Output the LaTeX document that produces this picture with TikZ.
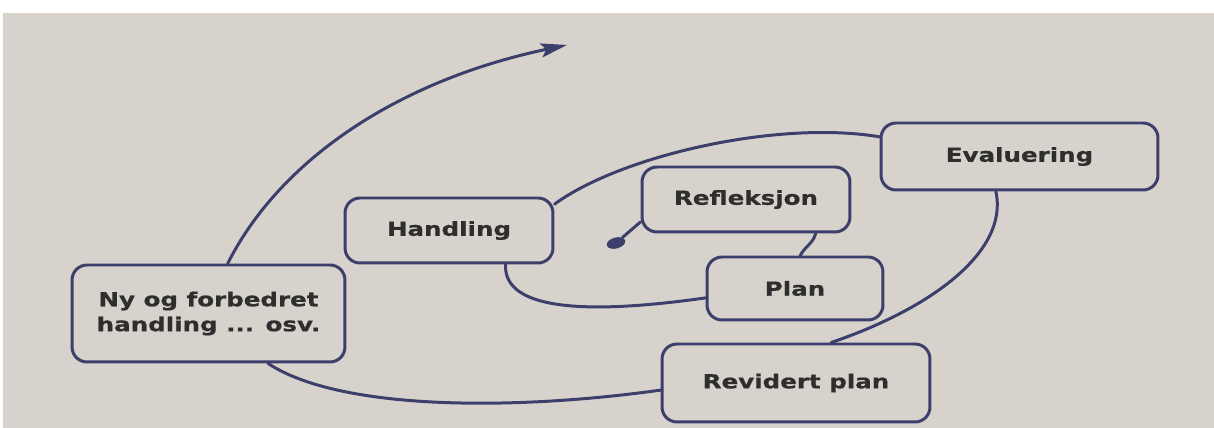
\documentclass[tikz,border=0pt]{standalone}
\usepackage{fontspec}
\newfontfamily\boxfont{DejaVu Sans}[FakeStretch=1.27, FakeBold=0.6]
\usetikzlibrary{arrows.meta,shapes.geometric}
\definecolor{ink}{RGB}{60,63,108}
\definecolor{paper}{RGB}{215,210,203}
\definecolor{txt}{RGB}{46,46,46}

\begin{document}
\begin{tikzpicture}
        [x=0.02cm, y=-0.02cm,
        box/.style={draw=ink, line width=1.7pt, rounded corners=0.3cm, inner sep=0pt, align=center, text=txt, font=\boxfont\bfseries\fontsize{11}{14.2}\selectfont},
        spiral/.style={draw=ink, line width=1.7pt, line cap=round},
        dotnode/.style={ellipse, fill=ink, inner sep=0pt, minimum width=0.38cm, minimum height=0.22cm, rotate=15}]
        \fill[white] (0,0) rectangle (1214,428);
        \fill[paper] (3,13) rectangle (1214,428);
        \useasboundingbox (0,0) rectangle (1214,428);

        \node[box, minimum width=5.46cm, minimum height=1.94cm] (N) at (208.5,313.5) {Ny og forbedret\\handling ... osv.};
        \node[box, minimum width=4.16cm, minimum height=1.3cm] (H) at (449,230.5) {Handling};
        \node[box, minimum width=4.16cm, minimum height=1.3cm] (R) at (746,199.5) {Refleksjon};
        \node[box, minimum width=3.52cm, minimum height=1.26cm] (P) at (795,288.5) {Plan};
        \node[box, minimum width=5.36cm, minimum height=1.56cm] (RP) at (796,383) {Revidert plan};
        \node[box, minimum width=5.54cm, minimum height=1.34cm] (E) at (1019.5,156.5) {Evaluering};
        \node[dotnode] (S) at (616,243) {};
        \coordinate (T) at (567,45);

        \draw[spiral] (S) -- (R.192);
        \draw[spiral] (R.-26) to[out=-105, in=62] (P.81);
        \draw[spiral] (P.186) .. controls +(-148,21) and +(-2,37) .. (H.-31.5);
        \draw[spiral] (H.14) .. controls +(67,-49) and +(-101,-17) .. (E.172);
        \draw[spiral] (E.236) .. controls +(13,60) and +(100,-34) .. (RP.49);
        \draw[spiral] (RP.183) .. controls +(-142,20) and +(73,48) .. (N.-40);
        \draw[spiral, -{Stealth[length=15pt, width=8pt, inset=3pt]}] (N.69) .. controls +(53,-105) and +(-167,35) .. (T);
    \end{tikzpicture}
\end{document}
